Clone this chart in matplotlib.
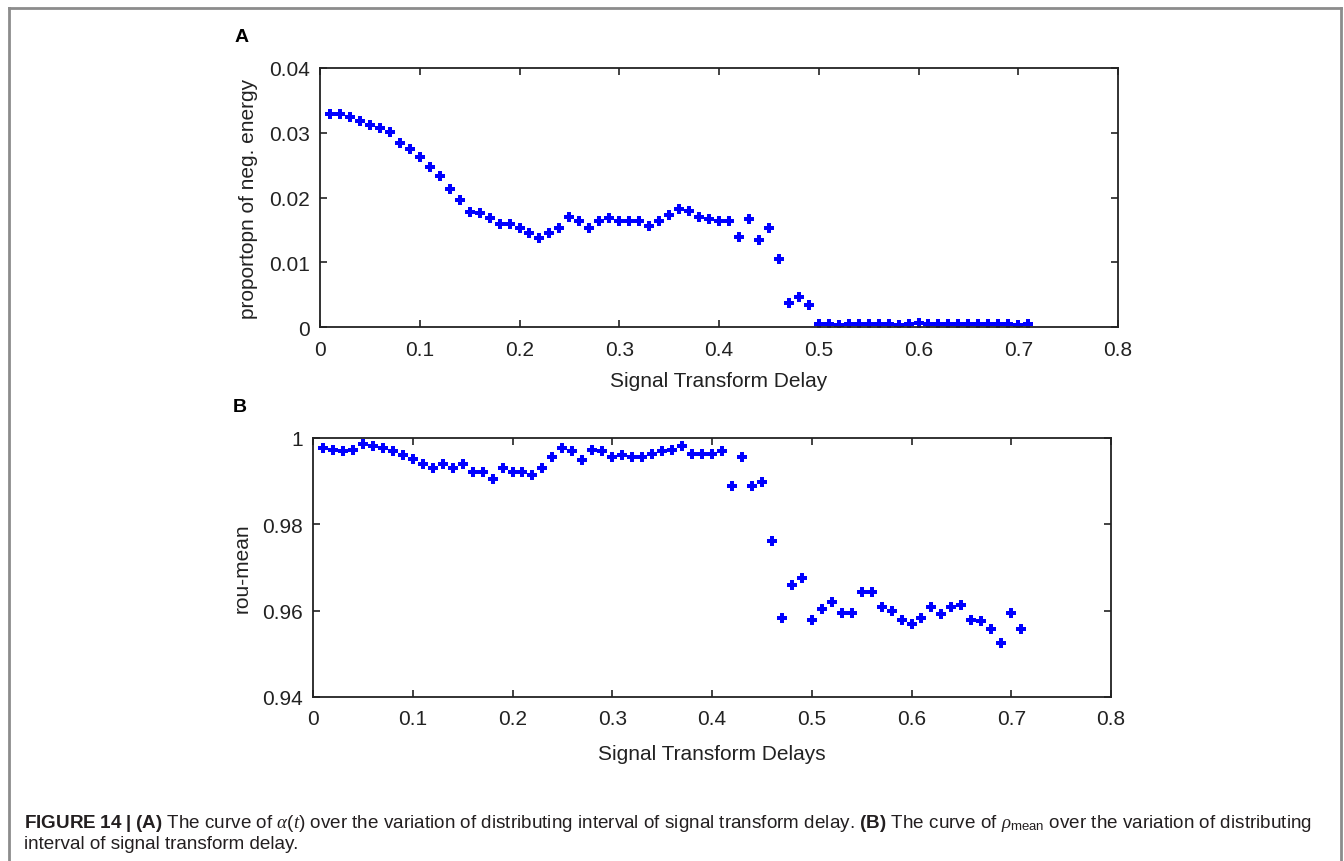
import numpy as np
import matplotlib
matplotlib.use("Agg")
import matplotlib.pyplot as plt
from matplotlib.lines import Line2D

# distribution interval of signal transform delay
delay = np.round(np.arange(1, 72) * 0.01, 2)

# proportion of negative energy, panel A
neg_energy = [
    0.0329, 0.0329, 0.0324, 0.0318, 0.0312, 0.0307, 0.0301, 0.0284, 0.0275, 0.0262,
    0.0247, 0.0233, 0.0213, 0.0196, 0.0178, 0.0176, 0.0168, 0.0159, 0.0159, 0.0153,
    0.0145, 0.0138, 0.0145, 0.0153, 0.0170, 0.0163, 0.0153, 0.0163, 0.0168, 0.0164,
    0.0164, 0.0164, 0.0156, 0.0164, 0.0173, 0.0182, 0.0179, 0.0170, 0.0167, 0.0164,
    0.0164, 0.0139, 0.0167, 0.0134, 0.0153, 0.0105, 0.0037, 0.0046, 0.0034, 0.0005,
    0.0005, 0.0003, 0.0005, 0.0005, 0.0005, 0.0005, 0.0005, 0.0003, 0.0005, 0.0006,
    0.0005, 0.0005, 0.0005, 0.0005, 0.0005, 0.0005, 0.0005, 0.0005, 0.0005, 0.0003,
    0.0005,
]

# rou-mean, panel B
rou_mean = [
    0.9977, 0.9973, 0.9969, 0.9973, 0.9986, 0.9981, 0.9977, 0.9969, 0.9960, 0.9952,
    0.9939, 0.9931, 0.9939, 0.9931, 0.9939, 0.9922, 0.9922, 0.9905, 0.9931, 0.9922,
    0.9922, 0.9914, 0.9931, 0.9956, 0.9977, 0.9969, 0.9948, 0.9973, 0.9969, 0.9956,
    0.9960, 0.9956, 0.9956, 0.9964, 0.9969, 0.9973, 0.9981, 0.9964, 0.9964, 0.9964,
    0.9969, 0.9888, 0.9956, 0.9888, 0.9897, 0.9761, 0.9583, 0.9659, 0.9676, 0.9579,
    0.9604, 0.9621, 0.9595, 0.9595, 0.9643, 0.9643, 0.9609, 0.9600, 0.9579, 0.9570,
    0.9583, 0.9609, 0.9592, 0.9609, 0.9612, 0.9579, 0.9575, 0.9558, 0.9524, 0.9595,
    0.9558,
]

xticks = [0, 0.1, 0.2, 0.3, 0.4, 0.5, 0.6, 0.7, 0.8]
xtick_labels = ["0", "0.1", "0.2", "0.3", "0.4", "0.5", "0.6", "0.7", "0.8"]
yticks_a = [0, 0.01, 0.02, 0.03, 0.04]
ytick_labels_a = ["0", "0.01", "0.02", "0.03", "0.04"]
yticks_b = [0.94, 0.96, 0.98, 1.0]
ytick_labels_b = ["0.94", "0.96", "0.98", "1"]

W, H = 1344, 862
font = ["Liberation Sans"]
plt.rcParams["mathtext.fontset"] = "custom"
plt.rcParams["mathtext.rm"] = "Liberation Sans"
plt.rcParams["mathtext.bf"] = "Liberation Sans:bold"
plt.rcParams["mathtext.it"] = "Liberation Serif:italic"

fig = plt.figure(figsize=(W / 100, H / 100), dpi=100)


def px_axes(l, t, r, b):
    return fig.add_axes([l / W, 1 - b / H, (r - l) / W, (b - t) / H])


def style(ax, yticks, ylabels, ylim):
    ax.set_xlim(0, 0.8)
    ax.set_ylim(*ylim)
    ax.set_xticks(xticks)
    ax.set_xticklabels(xtick_labels, family=font, fontsize=15)
    ax.set_yticks(yticks)
    ax.set_yticklabels(ylabels, family=font, fontsize=15)
    ax.tick_params(direction="in", length=5, width=1.2, top=True, right=True,
                   color="#222222", labelcolor="#222222")
    ax.tick_params(axis="x", pad=9)
    ax.tick_params(axis="y", pad=7)
    for s in ax.spines.values():
        s.set_linewidth(1.3)
        s.set_color("#222222")


mk = dict(linestyle="none", marker="P", markersize=6.5, color="#0000ff",
          markeredgewidth=0)

ax_a = px_axes(320, 69, 1118, 328)
ax_a.plot(delay, neg_energy, **mk)
style(ax_a, yticks_a, ytick_labels_a, (0, 0.04))
ax_a.set_xlabel("Signal Transform Delay", family=font, fontsize=15,
                color="#222222", labelpad=9)
ax_a.set_ylabel("proportopn of neg. energy", family=font, fontsize=15,
                color="#222222", labelpad=8)

ax_b = px_axes(313, 439, 1111, 698)
ax_b.plot(delay, rou_mean, **mk)
style(ax_b, yticks_b, ytick_labels_b, (0.94, 1.0))
ax_b.set_xlabel("Signal Transform Delays", family=font, fontsize=15,
                color="#222222", labelpad=11)
ax_b.set_ylabel("rou-mean", family=font, fontsize=15,
                color="#222222", labelpad=8)

# panel letters
fig.text(242 / W, 1 - 37 / H, "A", fontsize=14, fontweight="bold",
         family="Liberation Sans", ha="center", va="center")
fig.text(240 / W, 1 - 407 / H, "B", fontsize=14, fontweight="bold",
         family="Liberation Sans", ha="center", va="center")

# caption
cap1 = (r"$\mathbf{FIGURE\ 14\ |\ (A)}$ The curve of $\alpha(t)$ over the variation "
        r"of distributing interval of signal transform delay. $\mathbf{(B)}$ The curve "
        r"of $\rho_{\mathrm{mean}}$ over the variation of distributing")
cap2 = "interval of signal transform delay."
fig.text(24 / W, 1 - 828 / H, cap1, fontsize=13.6, family=font,
         color="#231f20", ha="left", va="baseline")
fig.text(24 / W, 1 - 849 / H, cap2, fontsize=13.6, family=font,
         color="#231f20", ha="left", va="baseline")

# outer frame
frame_kw = dict(color="#8c8c8c", linewidth=2, transform=fig.transFigure)
fig.add_artist(Line2D([9 / W, 9 / W], [0, 1 - 9 / H], **frame_kw))
fig.add_artist(Line2D([9 / W, 1341 / W], [1 - 9 / H, 1 - 9 / H], **frame_kw))
fig.add_artist(Line2D([1341 / W, 1341 / W], [0, 1 - 9 / H], **frame_kw))

fig.savefig("out.png", dpi=100)
